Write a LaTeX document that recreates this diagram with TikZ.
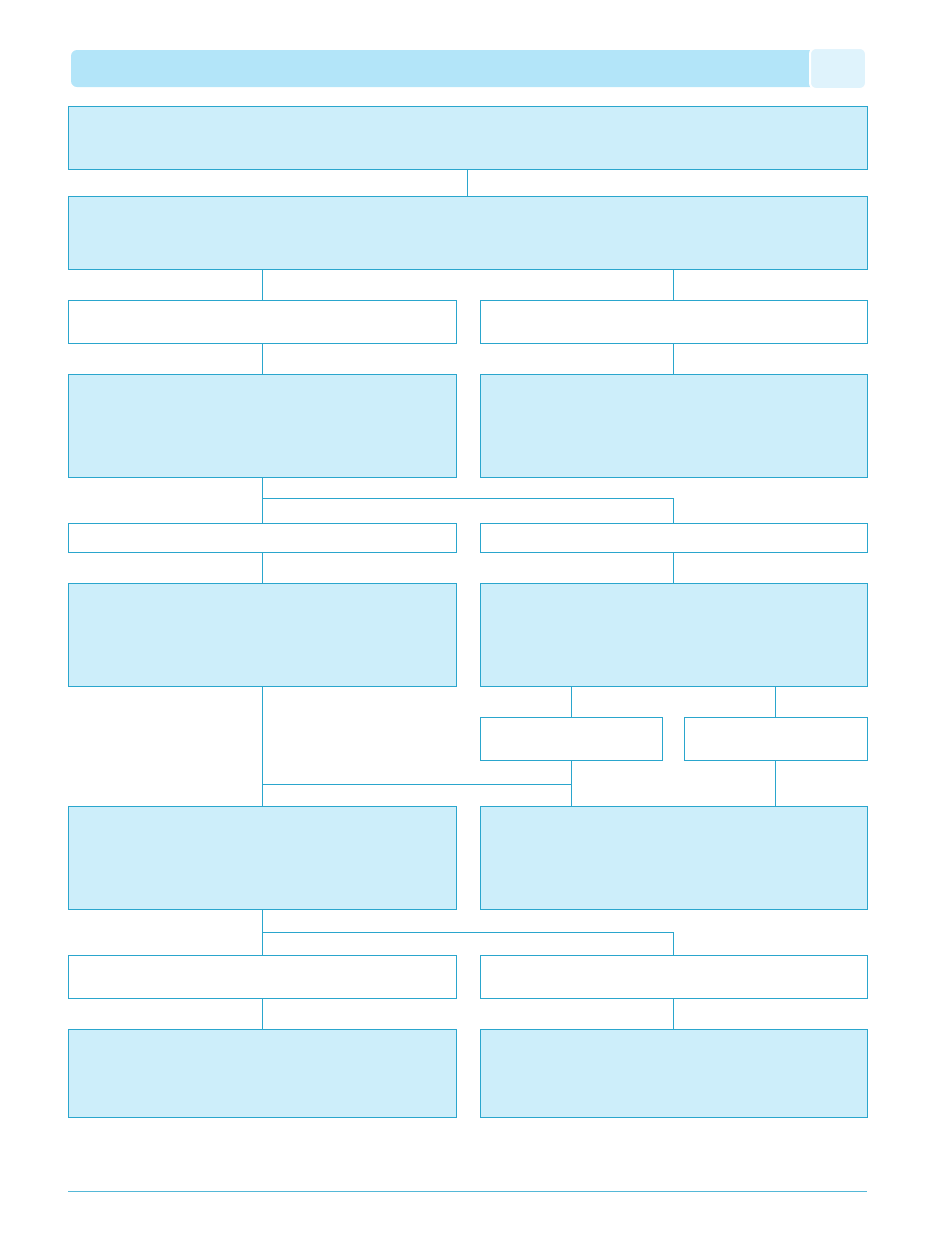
\documentclass[tikz,border=0pt]{standalone}
\usepackage{tikz}
\usetikzlibrary{positioning}
\definecolor{boxline}{HTML}{2AA6CD}
\definecolor{boxfill}{HTML}{CDEEFA}
\definecolor{barfill}{HTML}{B3E5F9}
\definecolor{tabfill}{HTML}{DFF3FC}
\tikzset{x=1pt, y=-1pt,
 fillbox/.style={draw=boxline, fill=boxfill, line width=1pt, outer sep=0pt, inner sep=0pt},
 plainbox/.style={draw=boxline, fill=white, line width=1pt, outer sep=0pt, inner sep=0pt},
 link/.style={draw=boxline, line width=1pt},
 }

\begin{document}
\begin{tikzpicture}
        \useasboundingbox (0,0) rectangle (935,1254);
        % header bar
        \fill[barfill, rounded corners=6pt] (71,50) rectangle (820,87);
        \draw[white, line width=2pt, fill=tabfill, rounded corners=6pt] (810,48) rectangle (866,89);
        % boxes
        \node[fillbox, minimum width=799, minimum height=63] (top) at (467.5,137.5) {};
        \node[fillbox, minimum width=799, minimum height=73] (main) at (467.5,232.5) {};
        \node[plainbox, minimum width=388, minimum height=43] (la) at (262,321.5) {};
        \node[plainbox, minimum width=387, minimum height=43] (ra) at (673.5,321.5) {};
        \node[fillbox, minimum width=388, minimum height=103] (lb) at (262,425.5) {};
        \node[fillbox, minimum width=387, minimum height=103] (rb) at (673.5,425.5) {};
        \node[plainbox, minimum width=388, minimum height=29] (lc) at (262,537.5) {};
        \node[plainbox, minimum width=387, minimum height=29] (rc) at (673.5,537.5) {};
        \node[fillbox, minimum width=388, minimum height=103] (ld) at (262,634.5) {};
        \node[fillbox, minimum width=387, minimum height=103] (rd) at (673.5,634.5) {};
        \node[plainbox, minimum width=182, minimum height=43] (rda) at (571,738.5) {};
        \node[plainbox, minimum width=183, minimum height=43] (rdb) at (775.5,738.5) {};
        \node[fillbox, minimum width=388, minimum height=103] (le) at (262,857.5) {};
        \node[fillbox, minimum width=387, minimum height=103] (re) at (673.5,857.5) {};
        \node[plainbox, minimum width=388, minimum height=43] (lf) at (262,976.5) {};
        \node[plainbox, minimum width=387, minimum height=43] (rf) at (673.5,976.5) {};
        \node[fillbox, minimum width=388, minimum height=88] (lg) at (262,1073) {};
        \node[fillbox, minimum width=387, minimum height=88] (rg) at (673.5,1073) {};
        % junctions
        \coordinate (splitb) at (262,498);
        \coordinate (splitd) at (262,784);
        \coordinate (splite) at (262,932);
        % connectors
        \draw[link] (top) -- (main);
        \draw[link] (main.south -| la) -- (la);
        \draw[link] (main.south -| ra) -- (ra);
        \draw[link] (la) -- (lb);
        \draw[link] (ra) -- (rb);
        \draw[link] (lb) -- (lc);
        \draw[link] (splitb) -| (rc);
        \draw[link] (lc) -- (ld);
        \draw[link] (rc) -- (rd);
        \draw[link] (rd.south -| rda) -- (rda);
        \draw[link] (rd.south -| rdb) -- (rdb);
        \draw[link] (ld) -- (le);
        \draw[link] (splitd) -- (splitd -| rda);
        \draw[link] (rda) -- (re.north -| rda);
        \draw[link] (rdb) -- (re.north -| rdb);
        \draw[link] (le) -- (lf);
        \draw[link] (splite) -| (rf);
        \draw[link] (lf) -- (lg);
        \draw[link] (rf) -- (rg);
        % footer rule
        \draw[link, draw=boxline!80] (68,1191) -- (867,1191);
    \end{tikzpicture}
\end{document}
